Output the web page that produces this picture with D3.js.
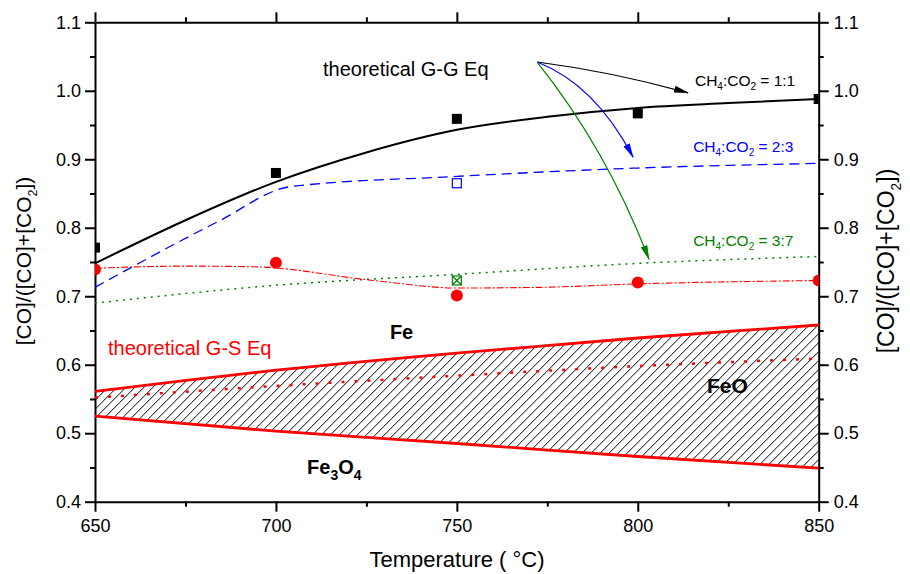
<!DOCTYPE html>
<html>
<head>
<meta charset="utf-8">
<script src="https://cdn.jsdelivr.net/npm/d3@7"></script>
<style>
    body { margin: 0; background: #fff; }
    svg text { font-family: "Liberation Sans", Arial, sans-serif; }
    .axis path, .axis line { stroke: #000; stroke-width: 2; }
    .axis text { font-size: 18px; fill: #000; }
</style>
</head>
<body>
<div id="chart"></div>
<script>

// experimental points
const temps = [650, 700, 750, 800, 850];
const ratio11Exp = [0.771, 0.880, 0.959, 0.967, 0.988];
const redExp = [0.739, 0.749, 0.701, 0.720, 0.723];
const ratio23Exp = [[750, 0.865]];
const ratio37Exp = [[750, 0.723]];

// theoretical gas-gas equilibrium curves [T, value]
const theory11 = [[650, 0.748], [675, 0.811], [700, 0.867], [725, 0.910], [750, 0.943],
                  [775, 0.962], [800, 0.975], [825, 0.982], [850, 0.988]];
const theory23 = [[650, 0.713], [684, 0.809], [704, 0.860], [750, 0.875], [799, 0.887], [850, 0.894]];
const theory37 = [[650, 0.690], [700, 0.716], [750, 0.732], [800, 0.748], [850, 0.758]];
const redFit = [[650, 0.741], [675, 0.744], [694, 0.743], [727, 0.723], [750, 0.712],
                [773, 0.713], [800, 0.718], [850, 0.723]];

// theoretical gas-solid equilibrium boundaries (same temps)
const feFeO = [0.561, 0.592, 0.617, 0.639, 0.658];
const feOFe3O4 = [0.525, 0.503, 0.485, 0.466, 0.449];
const gsDotted = [0.552, 0.569, 0.584, 0.598, 0.609];

// axis ticks
const xMajor = [650, 700, 750, 800, 850];
const xMinor = [675, 725, 775, 825];
const yMajor = [0.4, 0.5, 0.6, 0.7, 0.8, 0.9, 1.0, 1.1];
const yMinor = [0.45, 0.55, 0.65, 0.75, 0.85, 0.95, 1.05];

// annotation arrows [T, value]
const arrowFrom = [772.2, 1.042];
const arrows = [
    { via: [792.7, 1.028], to: [813.9, 0.997], color: "#000000" },
    { via: [788.2, 1.009], to: [798.7, 0.903], color: "#0000ff" },
    { via: [791.5, 0.914], to: [803.1, 0.754], color: "#008000" }
];

class EqVis {

    constructor(_parentElement) {
        this.parentElement = _parentElement;
        this.initVis();
    }

    initVis() {
        let vis = this;

        vis.margin = { top: 22.3, left: 95 };
        vis.width = 723.7;
        vis.height = 479.4;

        vis.root = d3.select("#" + vis.parentElement).append("svg")
            .attr("width", 910)
            .attr("height", 574);

        vis.svg = vis.root.append("g")
            .attr("transform", "translate(" + vis.margin.left + "," + vis.margin.top + ")");

        vis.x = d3.scaleLinear().domain([650, 850]).range([0, vis.width]);
        vis.y = d3.scaleLinear().domain([0.4, 1.1]).range([vis.height, 0]);

        let defs = vis.root.append("defs");
        defs.append("clipPath").attr("id", "plot-clip")
            .append("rect")
            .attr("width", vis.width)
            .attr("height", vis.height);

        let hatch = defs.append("pattern")
            .attr("id", "hatch")
            .attr("patternUnits", "userSpaceOnUse")
            .attr("width", 9)
            .attr("height", 9);
        hatch.append("path")
            .attr("d", "M0,9 L9,0 M-2,2 L2,-2 M7,11 L11,7")
            .attr("stroke", "#000")
            .attr("stroke-width", 1);

        arrows.forEach(function(a, i) {
            defs.append("marker")
                .attr("id", "head" + i)
                .attr("markerUnits", "userSpaceOnUse")
                .attr("viewBox", "0 -4 15 8")
                .attr("refX", 14)
                .attr("refY", 0)
                .attr("markerWidth", 15)
                .attr("markerHeight", 8)
                .attr("orient", "auto")
                .append("path")
                .attr("d", "M0,-3.5L15,0L0,3.5Z")
                .attr("fill", a.color);
        });

        vis.drawAxes();
        vis.drawData();
        vis.drawLabels();
    }

    drawAxes() {
        let vis = this;
        let fmt = d3.format(".1f");

        let addAxis = function(axisFn, scale, major, minor, transform, labels, pad) {
            let g = vis.svg.append("g").attr("class", "axis").attr("transform", transform);
            g.call(axisFn(scale).tickValues(minor).tickSize(5).tickSizeOuter(0).tickFormat(""));
            let g2 = vis.svg.append("g").attr("class", "axis").attr("transform", transform);
            g2.call(axisFn(scale).tickValues(major).tickSize(10).tickSizeOuter(0)
                .tickPadding(pad)
                .tickFormat(labels ? labels : ""));
            g2.select(".domain").remove();
        };

        addAxis(d3.axisBottom, vis.x, xMajor, xMinor, "translate(0," + vis.height + ")", d3.format("d"), 8);
        addAxis(d3.axisTop, vis.x, xMajor, xMinor, "translate(0,0)", null, 3);
        addAxis(d3.axisLeft, vis.y, yMajor, yMinor, "translate(0,0)", fmt, 4);
        addAxis(d3.axisRight, vis.y, yMajor, yMinor, "translate(" + vis.width + ",0)", fmt, 5);

        // titles
        vis.root.append("text")
            .attr("x", 457)
            .attr("y", 567)
            .attr("text-anchor", "middle")
            .style("font-size", "22px")
            .text("Temperature ( °C)");

        let yTitle = function(xPos, size) {
            let t = vis.root.append("text")
                .attr("transform", "translate(" + xPos + "," + 261 + ") rotate(-90)")
                .attr("text-anchor", "middle")
                .style("font-size", size + "px");
            t.append("tspan").text("[CO]/([CO]+[CO");
            t.append("tspan").attr("dy", size * 0.3).style("font-size", (size * 0.6) + "px").text("2");
            t.append("tspan").attr("dy", -size * 0.3).text("])");
        };
        yTitle(31, 21);
        yTitle(894, 23);
    }

    drawData() {
        let vis = this;

        let plot = vis.svg.append("g").attr("clip-path", "url(#plot-clip)");

        let line = d3.line()
            .x(function(d) { return vis.x(d[0]); })
            .y(function(d) { return vis.y(d[1]); })
            .curve(d3.curveMonotoneX);

        let pairs = function(values) {
            return temps.map(function(t, i) { return [t, values[i]]; });
        };

        // hatched FeO region
        let area = d3.area()
            .x(function(d, i) { return vis.x(temps[i]); })
            .y0(function(d, i) { return vis.y(feOFe3O4[i]); })
            .y1(function(d, i) { return vis.y(feFeO[i]); });
        plot.append("path")
            .datum(temps)
            .attr("d", area)
            .attr("fill", "url(#hatch)");

        plot.append("path").datum(pairs(feFeO)).attr("d", line)
            .attr("fill", "none").attr("stroke", "#ff0000").attr("stroke-width", 2.8);
        plot.append("path").datum(pairs(feOFe3O4)).attr("d", line)
            .attr("fill", "none").attr("stroke", "#ff0000").attr("stroke-width", 2.8);
        plot.append("path").datum(pairs(gsDotted)).attr("d", line)
            .attr("fill", "none").attr("stroke", "#ff0000").attr("stroke-width", 2.5)
            .attr("stroke-dasharray", "3,10");

        plot.append("path").datum(theory37).attr("d", line)
            .attr("fill", "none").attr("stroke", "#008000").attr("stroke-width", 1.5)
            .attr("stroke-dasharray", "2,5");
        plot.append("path").datum(theory23).attr("d", line)
            .attr("fill", "none").attr("stroke", "#0000ff").attr("stroke-width", 1.3)
            .attr("stroke-dasharray", "10,6");
        plot.append("path").datum(redFit).attr("d", line)
            .attr("fill", "none").attr("stroke", "#ff0000").attr("stroke-width", 1.1)
            .attr("stroke-dasharray", "7,2,2,2");
        plot.append("path").datum(theory11).attr("d", line)
            .attr("fill", "none").attr("stroke", "#000").attr("stroke-width", 2);

        // markers
        plot.selectAll(".sq11")
            .data(pairs(ratio11Exp))
            .enter().append("rect")
            .attr("class", "sq11")
            .attr("x", function(d) { return vis.x(d[0]) - 5; })
            .attr("y", function(d) { return vis.y(d[1]) - 5; })
            .attr("width", 10)
            .attr("height", 10)
            .attr("fill", "#000");

        plot.selectAll(".circ")
            .data(pairs(redExp))
            .enter().append("circle")
            .attr("class", "circ")
            .attr("cx", function(d) { return vis.x(d[0]); })
            .attr("cy", function(d) { return vis.y(d[1]); })
            .attr("r", 6)
            .attr("fill", "#ff0000");

        plot.selectAll(".sq23")
            .data(ratio23Exp)
            .enter().append("rect")
            .attr("class", "sq23")
            .attr("x", function(d) { return vis.x(d[0]) - 4.5; })
            .attr("y", function(d) { return vis.y(d[1]) - 4.5; })
            .attr("width", 9)
            .attr("height", 9)
            .attr("fill", "#fff")
            .attr("stroke", "#0000ff")
            .attr("stroke-width", 1.2);

        let box = plot.selectAll(".sq37")
            .data(ratio37Exp)
            .enter().append("g")
            .attr("class", "sq37")
            .attr("transform", function(d) {
                return "translate(" + vis.x(d[0]) + "," + vis.y(d[1]) + ")";
            });
        box.append("rect")
            .attr("x", -4.5).attr("y", -4.5)
            .attr("width", 9).attr("height", 9)
            .attr("fill", "#fff")
            .attr("stroke", "#008000")
            .attr("stroke-width", 1.2);
        box.append("path")
            .attr("d", "M-4.5,-4.5L4.5,4.5M4.5,-4.5L-4.5,4.5")
            .attr("stroke", "#008000")
            .attr("stroke-width", 1.2);

        // arrows
        arrows.forEach(function(a, i) {
            let path = d3.path();
            path.moveTo(vis.x(arrowFrom[0]), vis.y(arrowFrom[1]));
            path.quadraticCurveTo(vis.x(a.via[0]), vis.y(a.via[1]), vis.x(a.to[0]), vis.y(a.to[1]));
            vis.svg.append("path")
                .attr("d", path.toString())
                .attr("fill", "none")
                .attr("stroke", a.color)
                .attr("stroke-width", 1.2)
                .attr("marker-end", "url(#head" + i + ")");
        });
    }

    drawLabels() {
        let vis = this;

        let label = function(t, v, size, color, weight) {
            return vis.svg.append("text")
                .attr("x", vis.x(t))
                .attr("y", vis.y(v))
                .attr("fill", color)
                .style("font-size", size + "px")
                .style("font-weight", weight || "normal");
        };

        label(713, 1.0215, 20, "#000").text("theoretical G-G Eq");
        label(653.6, 0.6136, 20, "#ff0000").text("theoretical G-S Eq");

        let ratioLabel = function(t, v, color, ratio) {
            let txt = label(t, v, 15.5, color);
            txt.append("tspan").text("CH");
            txt.append("tspan").attr("dy", 4).style("font-size", "10px").text("4");
            txt.append("tspan").attr("dy", -4).text(":CO");
            txt.append("tspan").attr("dy", 4).style("font-size", "10px").text("2");
            txt.append("tspan").attr("dy", -4).text(" = " + ratio);
        };
        ratioLabel(815.8, 1.0069, "#000", "1:1");
        ratioLabel(815.3, 0.910, "#0000ff", "2:3");
        ratioLabel(815.3, 0.774, "#008000", "3:7");

        label(731.5, 0.637, 20, "#000", "bold").text("Fe");
        label(819.1, 0.558, 21, "#000", "bold").text("FeO");

        let fe3o4 = label(708.6, 0.44, 20, "#000", "bold");
        fe3o4.append("tspan").text("Fe");
        fe3o4.append("tspan").attr("dy", 6).style("font-size", "14px").text("3");
        fe3o4.append("tspan").attr("dy", -6).text("O");
        fe3o4.append("tspan").attr("dy", 6).style("font-size", "14px").text("4");
    }
}

new EqVis("chart");

</script>
</body>
</html>
